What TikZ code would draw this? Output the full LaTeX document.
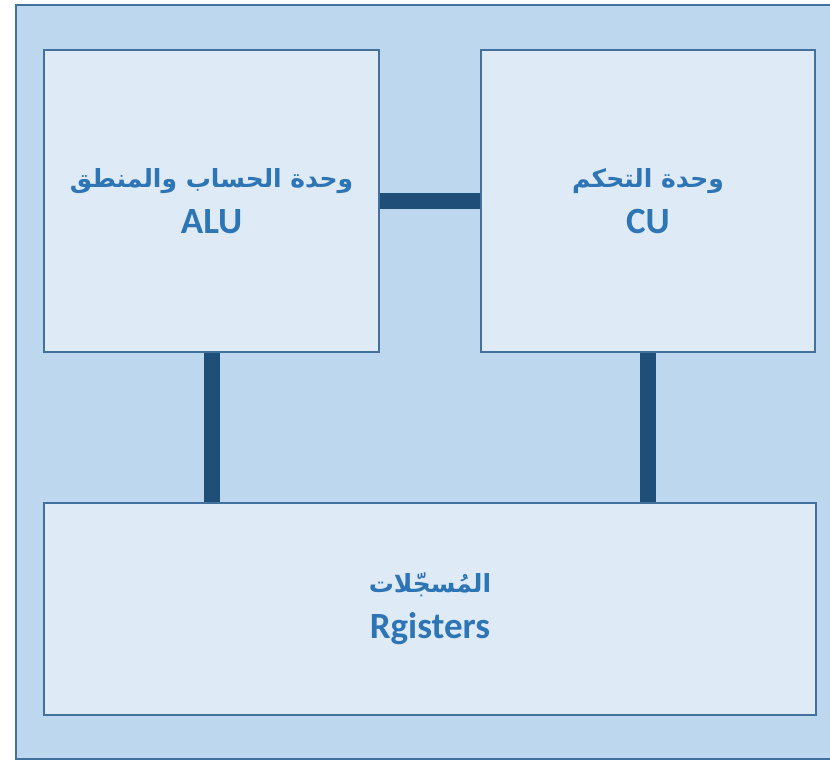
\documentclass[tikz,border=0pt]{standalone}
\usepackage{fontspec}
\setmainfont{Carlito}
\newfontfamily\arabicfont[Script=Arabic]{DejaVu Sans}
\TeXXeTstate=1
\definecolor{outerfill}{HTML}{BDD7EE}
\definecolor{innerfill}{HTML}{DEEBF7}
\definecolor{boxline}{HTML}{41719C}
\definecolor{linkcol}{HTML}{1F4E79}
\definecolor{txt}{HTML}{2E75B6}
\newcommand{\ar}[1]{{\arabicfont\bfseries\fontsize{25}{30}\selectfont\beginR #1\endR}}
\begin{document}
\begin{tikzpicture}[x=1pt,y=-1pt,
  box/.style={draw=boxline, line width=2.5pt, fill=innerfill, inner sep=0pt,
    align=center, text=txt, font=\fontsize{37}{46}\selectfont\bfseries},
  link/.style={draw=linkcol, line width=16pt}]
\useasboundingbox (0,0) rectangle (830,761);
\node[draw=boxline, line width=2pt, fill=outerfill, minimum width=860pt, minimum height=754pt, inner sep=0pt, anchor=west] (outer) at (15,382) {};
\node[box, minimum width=335pt, minimum height=302pt] (alu) at (211.5,201) {\ar{وحدة الحساب والمنطق}\\ALU};
\node[box, minimum width=334pt, minimum height=302pt] (cu) at (648,201) {\ar{وحدة التحكم}\\CU};
\node[box, minimum width=772pt, minimum height=212pt] (reg) at (430,609) {\ar{المُسجّلات}\\Rgisters};
\draw[link] (alu.east) -- (cu.west);
\draw[link] (alu.south) -- (alu.south |- reg.north);
\draw[link] (cu.south) -- (cu.south |- reg.north);
\end{tikzpicture}
\end{document}
